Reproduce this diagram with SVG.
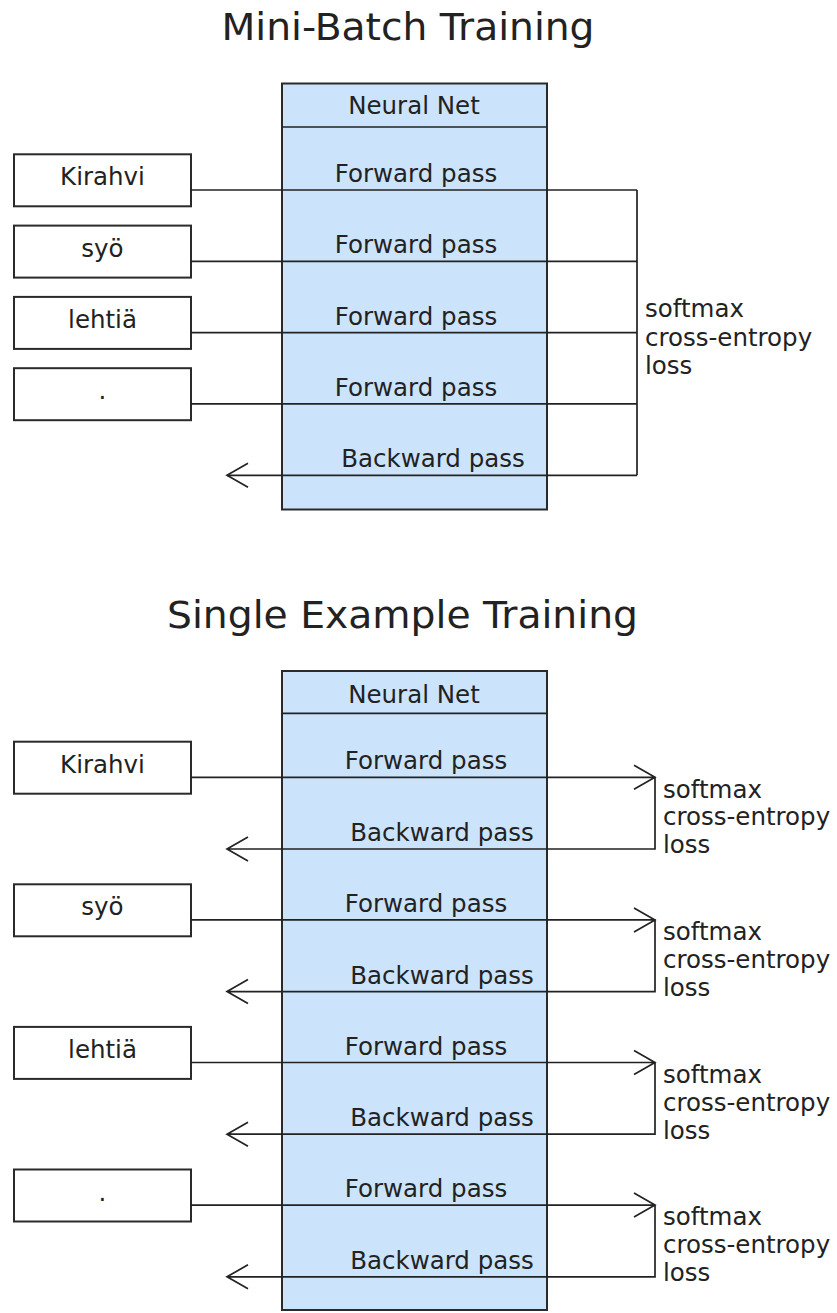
<svg xmlns="http://www.w3.org/2000/svg" width="837" height="1313" viewBox="0 0 837 1313">
<style>
text{font-family:"DejaVu Sans","Verdana",sans-serif;fill:#222;}
.t{font-size:37px;text-anchor:middle;}
.l{font-size:24.5px;}
.c{text-anchor:middle;}
.nn{fill:#cce4fb;stroke:#2a2a2a;stroke-width:2;}
.in{fill:#fff;stroke:#2a2a2a;stroke-width:2;}
.ln{fill:none;stroke:#222;stroke-width:1.7;}
</style>
<rect width="837" height="1313" fill="#fff"/>
<text class="t" x="408" y="40" textLength="373" lengthAdjust="spacingAndGlyphs">Mini-Batch Training</text>
<text class="t" x="402.5" y="628" textLength="471" lengthAdjust="spacingAndGlyphs">Single Example Training</text>

<!-- Top section nodes -->
<g id="nn1">
<rect class="nn" x="282" y="83.5" width="265" height="426"/>
<line class="ln" x1="282" y1="127" x2="547" y2="127"/>
<text class="l c" x="414" y="114">Neural Net</text>
</g>
<g id="in1-kirahvi"><rect class="in" x="14" y="154.3" width="177" height="52"/><text class="l c" x="102.5" y="185.3">Kirahvi</text></g>
<g id="in1-syo"><rect class="in" x="14" y="225.6" width="177" height="52"/><text class="l c" x="102.5" y="256.6">syö</text></g>
<g id="in1-lehtia"><rect class="in" x="14" y="296.9" width="177" height="52"/><text class="l c" x="102.5" y="327.9">lehtiä</text></g>
<g id="in1-dot"><rect class="in" x="14" y="368.2" width="177" height="52"/><text class="l c" x="102.5" y="399.2">.</text></g>
<g id="loss1"><text class="l" x="645" y="317">softmax</text><text class="l" x="645" y="345.5">cross-entropy</text><text class="l" x="645" y="374">loss</text></g>

<!-- Bottom section nodes -->
<g id="nn2">
<rect class="nn" x="282" y="671" width="265" height="639"/>
<line class="ln" x1="282" y1="713.3" x2="547" y2="713.3"/>
<text class="l c" x="414" y="702.7">Neural Net</text>
</g>
<g id="in2-kirahvi"><rect class="in" x="14" y="741.7" width="177" height="52"/><text class="l c" x="102.5" y="772.7">Kirahvi</text></g>
<g id="in2-syo"><rect class="in" x="14" y="884.3" width="177" height="52"/><text class="l c" x="102.5" y="915.3">syö</text></g>
<g id="in2-lehtia"><rect class="in" x="14" y="1026.9" width="177" height="52"/><text class="l c" x="102.5" y="1057.9">lehtiä</text></g>
<g id="in2-dot"><rect class="in" x="14" y="1169.5" width="177" height="52"/><text class="l c" x="102.5" y="1200.5">.</text></g>
<g id="loss2a"><text class="l" x="663" y="797.6">softmax</text><text class="l" x="663" y="825.3">cross-entropy</text><text class="l" x="663" y="853.3">loss</text></g>
<g id="loss2b"><text class="l" x="663" y="940.2">softmax</text><text class="l" x="663" y="967.9">cross-entropy</text><text class="l" x="663" y="995.9">loss</text></g>
<g id="loss2c"><text class="l" x="663" y="1082.8">softmax</text><text class="l" x="663" y="1110.5">cross-entropy</text><text class="l" x="663" y="1138.5">loss</text></g>
<g id="loss2d"><text class="l" x="663" y="1225.4">softmax</text><text class="l" x="663" y="1253.1">cross-entropy</text><text class="l" x="663" y="1281.1">loss</text></g>

<g id="connectors">
<!-- top -->
<line class="ln" x1="191" y1="190" x2="637" y2="190"/>
<line class="ln" x1="191" y1="261.3" x2="637" y2="261.3"/>
<line class="ln" x1="191" y1="332.6" x2="637" y2="332.6"/>
<line class="ln" x1="191" y1="403.9" x2="637" y2="403.9"/>
<line class="ln" x1="637" y1="190" x2="637" y2="475.3"/>
<line class="ln" x1="637" y1="475.3" x2="227" y2="475.3"/>
<polyline class="ln" points="248,463.3 227,475.3 248,487.3"/>
<!-- bottom -->
<path class="ln" d="M191 777.3H655V849H227M634 765.3L655 777.3L634 789.3M248 837L227 849L248 861"/>
<path class="ln" d="M191 919.9H655V991.6H227M634 907.9L655 919.9L634 931.9M248 979.6L227 991.6L248 1003.6"/>
<path class="ln" d="M191 1062.5H655V1134.2H227M634 1050.5L655 1062.5L634 1074.5M248 1122.2L227 1134.2L248 1146.2"/>
<path class="ln" d="M191 1205.1H655V1276.8H227M634 1193.1L655 1205.1L634 1217.1M248 1264.8L227 1276.8L248 1288.8"/>
</g>

<g id="pass-labels">
<text class="l c" x="416" y="182">Forward pass</text>
<text class="l c" x="416" y="253.3">Forward pass</text>
<text class="l c" x="416" y="324.6">Forward pass</text>
<text class="l c" x="416" y="395.9">Forward pass</text>
<text class="l c" x="433" y="467.3">Backward pass</text>
<text class="l c" x="426" y="769.3">Forward pass</text>
<text class="l c" x="442" y="841">Backward pass</text>
<text class="l c" x="426" y="911.9">Forward pass</text>
<text class="l c" x="442" y="983.6">Backward pass</text>
<text class="l c" x="426" y="1054.5">Forward pass</text>
<text class="l c" x="442" y="1126.2">Backward pass</text>
<text class="l c" x="426" y="1197.1">Forward pass</text>
<text class="l c" x="442" y="1268.8">Backward pass</text>
</g>
</svg>
